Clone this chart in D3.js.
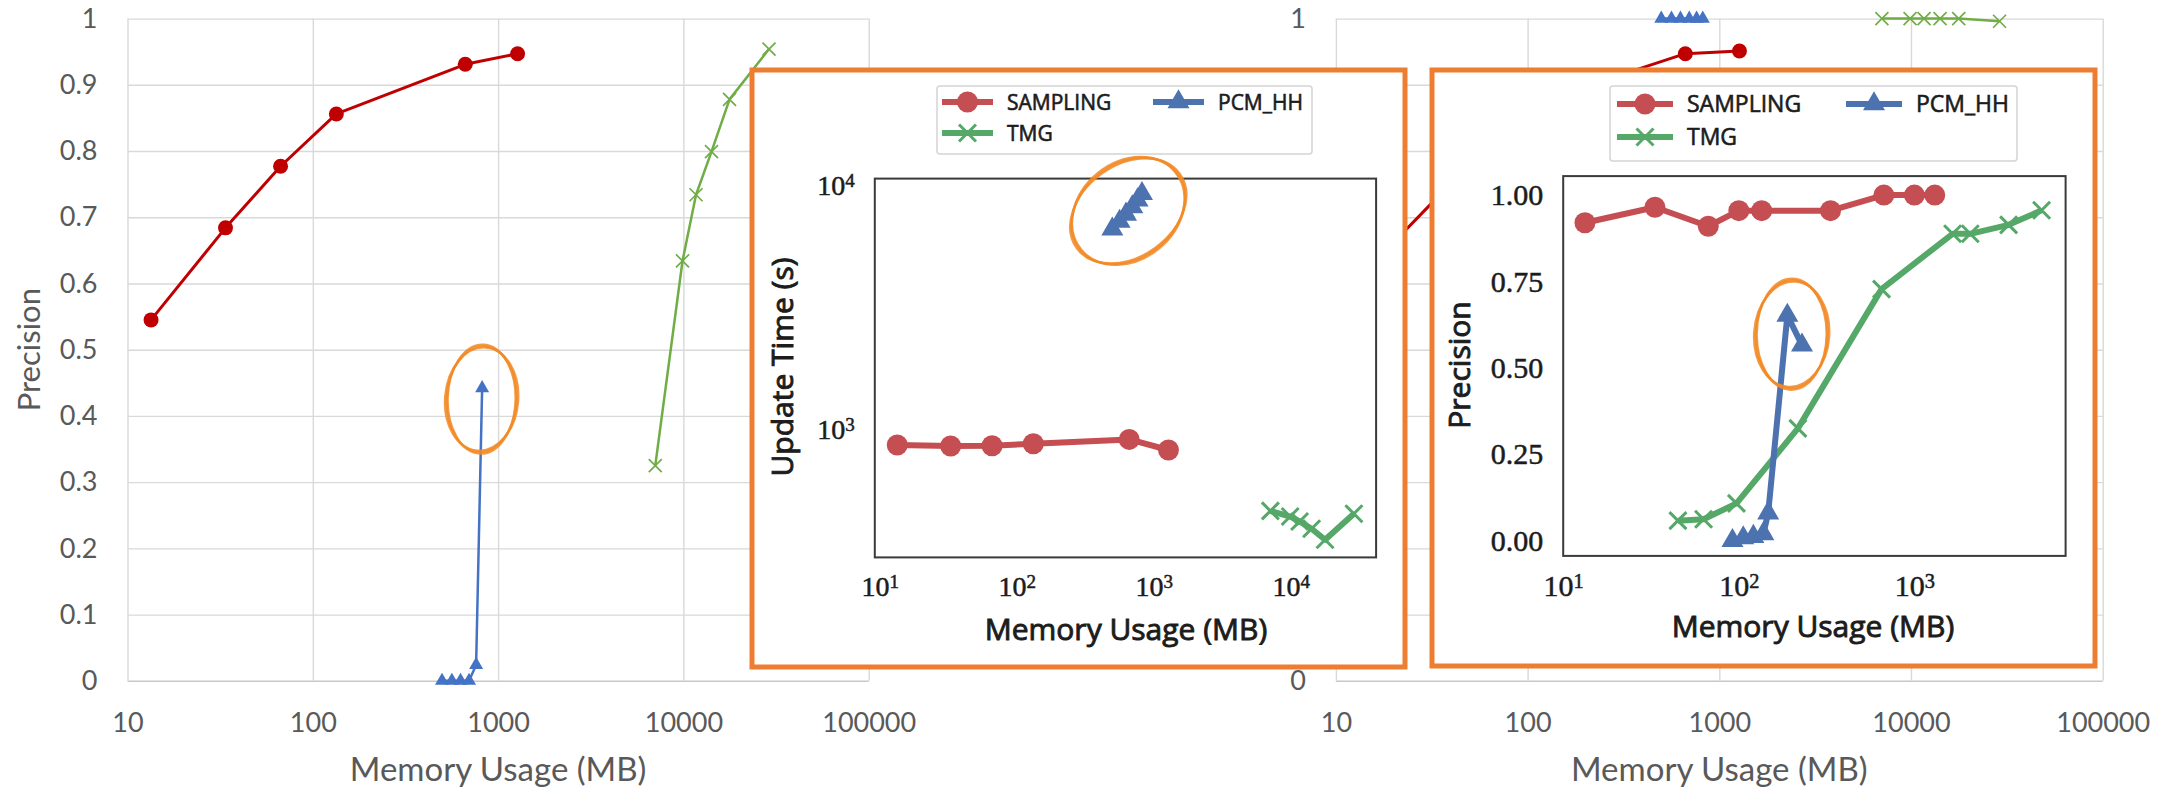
<!DOCTYPE html>
<html>
<head>
<meta charset="utf-8">
<script src="https://cdn.jsdelivr.net/npm/d3@7"></script>
<style>
  body { margin: 0; background: #fff; }
  svg { display: block; }
</style>
</head>
<body>
<svg id="chart" width="2178" height="789"></svg>
<script>
// ---------- data ----------
// background (Excel) charts, precision vs memory
const excelXTicks = [10, 100, 1000, 10000, 100000];
const excelYTicks = [0, 0.1, 0.2, 0.3, 0.4, 0.5, 0.6, 0.7, 0.8, 0.9, 1];
// the right chart's middle labels sit under the inset, only these show
const rightYLabels = [0, 1];

const samplingMem = [13.4, 33.8, 67, 134, 665, 1274];
const pcmMem = [498, 563, 627, 697, 761, 820];
const tmgMem = [7050, 9890, 11700, 14180, 17740, 28970];

const leftSamplingPrec = [0.545, 0.684, 0.777, 0.856, 0.931, 0.947];
const leftPcmPrec = [0, 0, 0, 0, 0.024, 0.442];
const leftTmgPrec = [0.325, 0.634, 0.734, 0.799, 0.878, 0.954];

const rightSamplingPrec = [0.61, 0.73, 0.82, 0.881, 0.947, 0.951];
const rightPcmPrec = [1, 1, 1, 1, 1, 1];
const rightTmgPrec = [1, 1, 1, 1, 1, 0.996];

// left inset: update time vs memory
const timeXTicks = [10, 100, 1000, 10000];
const timeYTicks = [1000, 10000];
const timeSamplingX = [13.4, 32.9, 66, 132, 662, 1280];
const timeSamplingY = [868, 860, 862, 878, 915, 828];
const timePcmX = [498, 563, 627, 697, 761, 820];
const timePcmY = [6650, 7150, 7650, 8200, 8750, 9300];
const timeTmgX = [7100, 9900, 11600, 14200, 17800, 28900];
const timeTmgY = [466, 442, 422, 394, 355, 454];

// right inset: precision vs memory
const precXTicks = [10, 100, 1000];
const precYTicks = [0, 0.25, 0.5, 0.75, 1];
const precSamplingX = [13.3, 33.3, 67, 100, 135, 333, 670, 1000, 1306];
const precSamplingY = [0.92, 0.965, 0.91, 0.955, 0.955, 0.955, 1.0, 1.0, 1.0];
const precPcmX = [92, 106, 121, 138, 147, 189, 229];
const precPcmY = [0.0, 0.008, 0.012, 0.02, 0.08, 0.652, 0.566];
const precTmgX = [45, 63, 97, 217, 650, 1650, 2080, 3440, 5300];
const precTmgY = [0.058, 0.062, 0.108, 0.325, 0.728, 0.888, 0.888, 0.914, 0.956];

const legendNames = ["SAMPLING", "TMG", "PCM_HH"];

// ---------- layout ----------
const svg = d3.select("#chart");
const leftPlot = {x0: 127.5, x1: 868.7, y0: 18.6, y1: 680.8};
const rightPlot = {x0: 1335.9, x1: 2102.7, y0: 18.6, y1: 680.8};
const leftBox = {x0: 752, x1: 1405, y0: 70, y1: 667};
const rightBox = {x0: 1432, x1: 2095, y0: 70, y1: 666};
const timeFrame = {x0: 874.8, x1: 1376.1, y0: 178.6, y1: 557.4};
const precFrame = {x0: 1563.2, x1: 2065.6, y0: 176.1, y1: 555.9};

const excelText = "#595959";
const excelFont = "Lato, 'Open Sans', sans-serif";
const insetText = "#1c1c1c";
const orange = "#ed7d31";

function markerPath(kind, s) {
  if (kind === "circle") {
    return `M${-s},0a${s},${s} 0 1,0 ${2 * s},0a${s},${s} 0 1,0 ${-2 * s},0Z`;
  }
  if (kind === "triangle") {
    const h = s * Math.sqrt(3);
    return `M0,${-2 * h / 3}L${s},${h / 3}L${-s},${h / 3}Z`;
  }
  return `M${-s},${-s}L${s},${s}M${-s},${s}L${s},${-s}`;
}

function drawSeries(g, x, y, s) {
  const pts = d3.zip(s.x, s.y);
  const line = d3.line().x(d => x(d[0])).y(d => y(d[1]));
  g.append("path")
    .attr("d", line(pts))
    .attr("fill", "none")
    .attr("stroke", s.color)
    .attr("stroke-width", s.lw)
    .attr("stroke-linejoin", "round");
  g.append("g").selectAll("path")
    .data(pts)
    .join("path")
    .attr("transform", d => `translate(${x(d[0])},${y(d[1])})`)
    .attr("d", markerPath(s.marker, s.ms))
    .attr("fill", s.marker === "x" ? "none" : s.color)
    .attr("stroke", s.marker === "x" ? s.color : "none")
    .attr("stroke-width", s.mlw || 0);
}

// hand drawn looking ellipse, a few passes with small offsets
function sketchEllipse(cx, cy, rx, ry, rot) {
  const g = svg.append("g").attr("transform", `translate(${cx},${cy}) rotate(${rot})`);
  [[0, 0, 0], [1.5, -1.2, 2], [-1, 1.5, -1.5]].forEach(([dr, dq, da]) => {
    g.append("ellipse")
      .attr("rx", rx + dr).attr("ry", ry + dq)
      .attr("transform", `rotate(${da})`)
      .attr("fill", "none")
      .attr("stroke", "#f28a26")
      .attr("stroke-width", 2.4)
      .attr("opacity", 0.85);
  });
}

// makes the scanned-looking inset text a bit heavier
function heavy(sel, w) {
  sel.attr("stroke", insetText).attr("stroke-width", w).attr("paint-order", "stroke");
}

// ---------- background Excel charts ----------
function excelChart(box, series, yLabels, title) {
  const x = d3.scaleLog().domain([10, 100000]).range([box.x0, box.x1]);
  const y = d3.scaleLinear().domain([0, 1]).range([box.y1, box.y0]);
  const g = svg.append("g");

  const gy = g.append("g")
    .attr("transform", `translate(${box.x0},0)`)
    .call(d3.axisLeft(y).tickValues(excelYTicks).tickSize(-(box.x1 - box.x0))
      .tickPadding(30).tickFormat(d3.format("~g")));
  const gx = g.append("g")
    .attr("transform", `translate(0,${box.y1})`)
    .call(d3.axisBottom(x).tickValues(excelXTicks).tickSize(-(box.y1 - box.y0))
      .tickPadding(32).tickFormat(d3.format("d")));

  [gx, gy].forEach(a => {
    a.select(".domain").remove();
    a.selectAll(".tick line").attr("stroke", "#d9d9d9").attr("stroke-width", 1.4);
    a.selectAll(".tick text")
      .attr("fill", excelText)
      .attr("font-family", excelFont)
      .attr("font-size", 27);
  });
  gy.selectAll(".tick line").filter(d => d === 0).attr("stroke", "#c8c8c8");
  gy.selectAll(".tick text").filter(d => !yLabels.includes(d)).remove();

  series.forEach(s => drawSeries(g, x, y, s));

  g.append("text")
    .attr("x", (box.x0 + box.x1) / 2)
    .attr("y", 781)
    .attr("text-anchor", "middle")
    .attr("fill", excelText)
    .attr("font-family", excelFont)
    .attr("font-size", 33)
    .text("Memory Usage (MB)");

  if (title) {
    g.append("text")
      .attr("transform", `translate(40,${(box.y0 + box.y1) / 2}) rotate(-90)`)
      .attr("text-anchor", "middle")
      .attr("fill", excelText)
      .attr("font-family", excelFont)
      .attr("font-size", 31)
      .text("Precision");
  }
  return {x, y};
}

const excelStyles = {
  sampling: {color: "#c00000", marker: "circle", ms: 7.5, lw: 3},
  pcm: {color: "#4472c4", marker: "triangle", ms: 7, lw: 2.5},
  tmg: {color: "#70ad47", marker: "x", ms: 6.5, lw: 2.5, mlw: 1.7}
};

const leftScales = excelChart(leftPlot, [
  {...excelStyles.sampling, x: samplingMem, y: leftSamplingPrec},
  {...excelStyles.pcm, x: pcmMem, y: leftPcmPrec},
  {...excelStyles.tmg, x: tmgMem, y: leftTmgPrec}
], excelYTicks, true);

excelChart(rightPlot, [
  {...excelStyles.sampling, x: samplingMem, y: rightSamplingPrec},
  {...excelStyles.pcm, x: pcmMem, y: rightPcmPrec},
  {...excelStyles.tmg, x: tmgMem, y: rightTmgPrec}
], rightYLabels, false);

sketchEllipse(leftScales.x(pcmMem[5]) - 0.5, leftScales.y(leftPcmPrec[5]) + 11, 35, 53, 3);

// ---------- inset (matplotlib style) charts ----------
const insetStyles = {
  SAMPLING: {color: "#c44e52", marker: "circle", ms: 10.5, lw: 6},
  PCM_HH: {color: "#4c72b0", marker: "triangle", ms: 11, lw: 6},
  TMG: {color: "#55a868", marker: "x", ms: 8.5, lw: 6, mlw: 3}
};

function supLabel(text, d) {
  const e = Math.round(Math.log10(d));
  text.text(null);
  text.append("tspan").text("10");
  text.append("tspan").attr("dy", "-0.42em").attr("font-size", "0.68em").text(e);
}

function insetChart(box, frame, x, y, opts) {
  svg.append("rect")
    .attr("x", box.x0).attr("y", box.y0)
    .attr("width", box.x1 - box.x0).attr("height", box.y1 - box.y0)
    .attr("fill", "#fff")
    .attr("stroke", orange)
    .attr("stroke-width", 5);

  const g = svg.append("g");
  const gx = g.append("g")
    .attr("transform", `translate(0,${frame.y1})`)
    .call(d3.axisBottom(x).tickValues(opts.xTicks).tickSize(0).tickPadding(19));
  const gy = g.append("g")
    .attr("transform", `translate(${frame.x0},0)`)
    .call(d3.axisLeft(y).tickValues(opts.yTicks).tickSize(0).tickPadding(20));
  [gx, gy].forEach(a => {
    a.select(".domain").remove();
    a.selectAll(".tick text")
      .attr("fill", insetText)
      .attr("font-family", "'Liberation Serif', serif")
      .attr("font-size", opts.tickSize)
      .call(heavy, 0.5);
  });
  gx.selectAll(".tick text").each(function(d) { supLabel(d3.select(this), d); });
  if (opts.yLog) {
    gy.selectAll(".tick text").each(function(d) { supLabel(d3.select(this), d); });
  } else {
    gy.selectAll(".tick text").text(d3.format(".2f"));
  }

  const plot = g.append("g");
  opts.series.forEach(s => drawSeries(plot, x, y, {...insetStyles[s.name], x: s.x, y: s.y}));

  g.append("rect")
    .attr("x", frame.x0).attr("y", frame.y0)
    .attr("width", frame.x1 - frame.x0).attr("height", frame.y1 - frame.y0)
    .attr("fill", "none")
    .attr("stroke", "#3a3a3a")
    .attr("stroke-width", 2);

  g.append("text")
    .attr("x", opts.xTitle[0]).attr("y", opts.xTitle[1])
    .attr("text-anchor", "middle")
    .attr("fill", insetText)
    .attr("font-family", "'Open Sans', sans-serif")
    .attr("font-size", 30)
    .text("Memory Usage (MB)")
    .call(heavy, 0.9);
  g.append("text")
    .attr("transform", `translate(${opts.yTitle[0]},${opts.yTitle[1]}) rotate(-90)`)
    .attr("text-anchor", "middle")
    .attr("fill", insetText)
    .attr("font-family", "'Open Sans', sans-serif")
    .attr("font-size", 30)
    .text(opts.yLabel)
    .call(heavy, 0.9);

  // legend, two columns: SAMPLING / TMG then PCM_HH
  const L = opts.legend;
  const lg = g.append("g");
  lg.append("rect")
    .attr("x", L.x0).attr("y", L.y0)
    .attr("width", L.x1 - L.x0).attr("height", L.y1 - L.y0)
    .attr("rx", 3)
    .attr("fill", "#fff")
    .attr("stroke", "#d4d4d4")
    .attr("stroke-width", 1.5);
  const cells = legendNames.map((name, i) => ({
    name, col: i < 2 ? 0 : 1, row: i < 2 ? i : 0
  }));
  const entry = lg.selectAll("g.entry")
    .data(cells)
    .join("g")
    .attr("class", "entry")
    .attr("transform", d => `translate(${L.cols[d.col]},${L.rows[d.row]})`);
  entry.append("line")
    .attr("x1", 0).attr("x2", L.handle)
    .attr("stroke", d => insetStyles[d.name].color)
    .attr("stroke-width", 6);
  entry.append("path")
    .attr("transform", `translate(${L.handle / 2},0)`)
    .attr("d", d => markerPath(insetStyles[d.name].marker, insetStyles[d.name].ms))
    .attr("fill", d => insetStyles[d.name].marker === "x" ? "none" : insetStyles[d.name].color)
    .attr("stroke", d => insetStyles[d.name].marker === "x" ? insetStyles[d.name].color : "none")
    .attr("stroke-width", d => insetStyles[d.name].mlw || 0);
  entry.append("text")
    .attr("x", L.handle + L.gap)
    .attr("dy", "0.36em")
    .attr("fill", insetText)
    .attr("font-family", "'Open Sans', sans-serif")
    .attr("font-size", L.font)
    .text(d => d.name)
    .call(heavy, 0.6);
}

const timeX = d3.scaleLog().domain([9.19, 41980]).range([timeFrame.x0, timeFrame.x1]);
const timeY = d3.scaleLog().domain([300.6, 10715]).range([timeFrame.y1, timeFrame.y0]);
insetChart(leftBox, timeFrame, timeX, timeY, {
  xTicks: timeXTicks, yTicks: timeYTicks, yLog: true, tickSize: 28,
  yLabel: "Update Time (s)", xTitle: [1126, 640], yTitle: [793, 367],
  legend: {x0: 937, x1: 1312, y0: 86, y1: 154, cols: [942, 1153], rows: [102, 133], handle: 51, gap: 14, font: 21},
  series: [
    {name: "SAMPLING", x: timeSamplingX, y: timeSamplingY},
    {name: "TMG", x: timeTmgX, y: timeTmgY},
    {name: "PCM_HH", x: timePcmX, y: timePcmY}
  ]
});
sketchEllipse(d3.mean(timePcmX.map(timeX)), d3.mean(timePcmY.map(timeY)), 62, 47, -38);

const precX = d3.scaleLog().domain([10, 7260]).range([precFrame.x0, precFrame.x1]);
const precY = d3.scaleLinear().domain([-0.044, 1.055]).range([precFrame.y1, precFrame.y0]);
insetChart(rightBox, precFrame, precX, precY, {
  xTicks: precXTicks, yTicks: precYTicks, yLog: false, tickSize: 30,
  yLabel: "Precision", xTitle: [1813, 637], yTitle: [1470, 365],
  legend: {x0: 1610, x1: 2017, y0: 86, y1: 161, cols: [1617, 1846], rows: [104, 137], handle: 56, gap: 14, font: 23},
  series: [
    {name: "SAMPLING", x: precSamplingX, y: precSamplingY},
    {name: "TMG", x: precTmgX, y: precTmgY},
    {name: "PCM_HH", x: precPcmX, y: precPcmY}
  ]
});
const pk = precPcmX.length;
sketchEllipse((precX(precPcmX[pk - 2]) + precX(precPcmX[pk - 1])) / 2 - 3,
  (precY(precPcmY[pk - 2]) + precY(precPcmY[pk - 1])) / 2 + 4, 36, 54, 2);
</script>
</body>
</html>
